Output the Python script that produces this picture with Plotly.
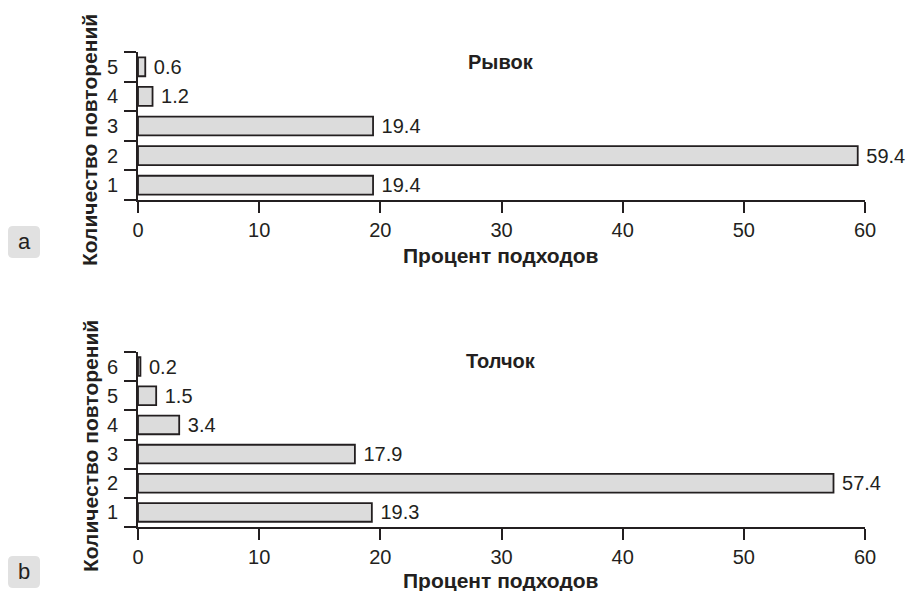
import plotly.graph_objects as go

cats_a = [1, 2, 3, 4, 5]
vals_a = [19.4, 59.4, 19.4, 1.2, 0.6]
cats_b = [1, 2, 3, 4, 5, 6]
vals_b = [19.3, 57.4, 17.9, 3.4, 1.5, 0.2]
x_ticks = [0, 10, 20, 30, 40, 50, 60]
title_a = "Рывок"
title_b = "Толчок"
x_title = "Процент подходов"
y_title = "Количество повторений"

W, H = 908, 591
FONT = "Liberation Sans, Arial, sans-serif"
INK = "#231f20"
LW = 1.8

def px_x(p):
    return p / W

def px_y(p):
    return 1 - p / H

fig = go.Figure()
for vals, cats, xa, ya in [(vals_a, cats_a, "x", "y"), (vals_b, cats_b, "x2", "y2")]:
    fig.add_trace(go.Bar(
        x=vals, y=cats, orientation="h", xaxis=xa, yaxis=ya,
        width=0.64,
        marker=dict(color="#dcdcdc", line=dict(color=INK, width=LW)),
        text=["\u00a0" + f"{v:.1f}" for v in vals], textposition="outside",
        constraintext="none",
        textfont=dict(family=FONT, size=20, color=INK),
        cliponaxis=False, showlegend=False,
    ))

def xaxis(anchor):
    return dict(
        domain=[px_x(138), px_x(865)], range=[0, 60], anchor=anchor, automargin=False,
        tickvals=x_ticks, ticks="outside", ticklen=11, tickwidth=LW, tickcolor=INK,
        showline=True, linecolor=INK, linewidth=LW, showgrid=False, zeroline=False,
        tickfont=dict(family=FONT, size=20, color=INK),
    )

def yaxis(top, bottom, n, anchor):
    return dict(
        domain=[px_y(bottom), px_y(top)], range=[0.5, n + 0.5], anchor=anchor,
        automargin=False,
        tickvals=list(range(1, n + 1)), ticks="", ticklen=0, ticklabelstandoff=14,
        showline=True, linecolor=INK, linewidth=LW, showgrid=False, zeroline=False,
        tickfont=dict(family=FONT, size=20, color=INK),
        minor=dict(tickvals=[i + 0.5 for i in range(0, n + 1)], ticks="outside",
                   ticklen=12, tickwidth=LW, tickcolor=INK, showgrid=False),
    )

fig.update_layout(
    width=W, height=H, margin=dict(l=0, r=0, t=0, b=0, autoexpand=False),
    paper_bgcolor="white", plot_bgcolor="white",
    xaxis=xaxis("y"), yaxis=yaxis(52, 200, 5, "x"),
    xaxis2=xaxis("y2"), yaxis2=yaxis(352, 527, 6, "x2"),
)

ann = []
def a(text, x, y, size=17, bold=True, angle=0):
    ann.append(dict(text=f"<b>{text}</b>" if bold else text, x=px_x(x), y=px_y(y),
                    xref="paper", yref="paper", showarrow=False, textangle=angle,
                    xanchor="center", yanchor="middle",
                    font=dict(family=FONT, size=size, color=INK)))

a(title_a, 501, 62, 20)
a(title_b, 501, 361, 20)
a(x_title, 501, 255, 21)
a(x_title, 501, 580, 21)
a(y_title, 90, 140, 21, angle=-90)
a(y_title, 90, 446, 21, angle=-90)
a("a", 24, 241, 22, bold=False)
a("b", 24, 571, 22, bold=False)
fig.update_layout(annotations=ann)

def rrect(x0, y0, x1, y1, rx, ry):
    return (f"M{x0+rx},{y0} L{x1-rx},{y0} Q{x1},{y0} {x1},{y0+ry} L{x1},{y1-ry} "
            f"Q{x1},{y1} {x1-rx},{y1} L{x0+rx},{y1} Q{x0},{y1} {x0},{y1-ry} "
            f"L{x0},{y0+ry} Q{x0},{y0} {x0+rx},{y0} Z")

shapes = []
for (x0, y0, x1, y1) in [(8, 226, 40, 258), (8, 556, 40, 588)]:
    shapes.append(dict(type="path", xref="paper", yref="paper",
                       path=rrect(px_x(x0), px_y(y1), px_x(x1), px_y(y0), 5 / W, 5 / H),
                       fillcolor="#e1e1e1", line=dict(width=0), layer="below"))
fig.update_layout(shapes=shapes)

fig.write_html("out.html")
